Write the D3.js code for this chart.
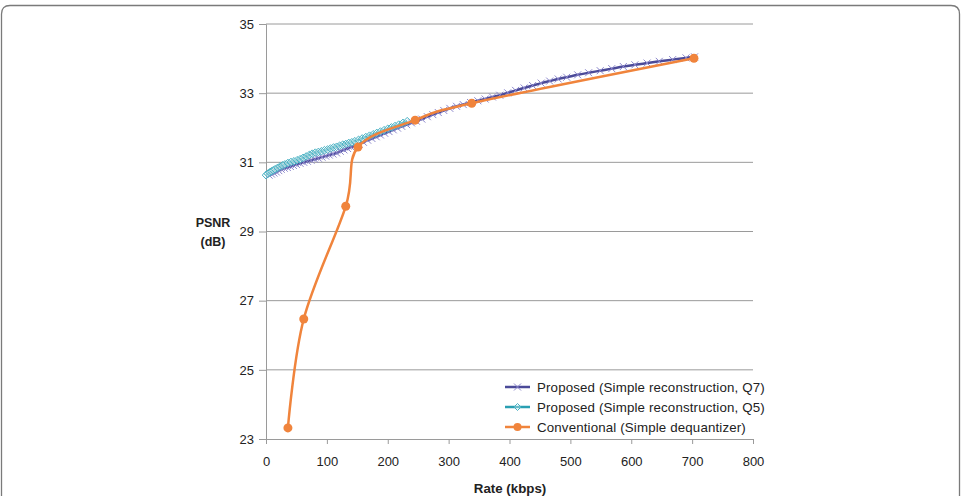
<!DOCTYPE html>
<html><head><meta charset="utf-8">
<script src="https://cdn.jsdelivr.net/npm/d3@7"></script>
<style>body{margin:0;background:#fff}svg{display:block}</style>
</head><body>
<svg id="c" width="961" height="496"></svg>
<script>
const xTicks = [0,100,200,300,400,500,600,700,800];
const yTicks = [23,25,27,29,31,33,35];
const seriesNames = ["Proposed (Simple reconstruction, Q7)","Proposed (Simple reconstruction, Q5)","Conventional (Simple dequantizer)"];

const q7Rate = [5,9,13,17,21,25,30,35,40,45,50,56,62,68,74,80,86,92,98,104,110,116,122,128,134,140,146,153,160,167,174,181,188,195,202,209,216,223,231,239,247,256,265,274,283,292,302,313,324,336,348,360,372,384,397,410,424,438,452,466,480,494,512,530,549,568,587,606,626,646,668,690,704];
const q7Psnr = [30.63,30.66,30.69,30.72,30.76,30.80,30.83,30.85,30.88,30.91,30.94,30.97,31.00,31.03,31.06,31.09,31.12,31.15,31.18,31.21,31.24,31.27,31.32,31.36,31.40,31.44,31.47,31.52,31.58,31.64,31.69,31.74,31.79,31.84,31.89,31.94,31.99,32.04,32.09,32.14,32.19,32.25,32.32,32.38,32.44,32.50,32.56,32.62,32.67,32.73,32.78,32.83,32.89,32.94,33.01,33.08,33.15,33.22,33.29,33.35,33.41,33.46,33.53,33.59,33.65,33.71,33.77,33.82,33.87,33.92,33.97,34.02,34.05];

const q5Rate = [0,3,6,9,12,15,19,23,27,31,36,41,46,51,56,61,66,71,76,81,86,91,96,101,106,111,116,121,126,131,136,141,146,152,158,164,170,176,182,188,194,200,206,212,218,225,232];
const q5Psnr = [30.63,30.67,30.71,30.74,30.77,30.80,30.84,30.88,30.91,30.94,30.98,31.01,31.03,31.06,31.09,31.13,31.17,31.21,31.25,31.28,31.30,31.32,31.35,31.37,31.40,31.43,31.45,31.48,31.51,31.53,31.56,31.58,31.61,31.65,31.69,31.73,31.77,31.81,31.85,31.89,31.93,31.97,32.01,32.05,32.09,32.14,32.19];

const convRate = [36,62,131,151,245,338,703];
const convPsnr = [23.32,26.47,29.73,31.44,32.22,32.71,34.01];

const svg = d3.select("#c");
const font = "'Liberation Sans', Arial, sans-serif";

// outer frame
svg.append("path")
  .attr("d","M1.5,520 L1.5,14 Q1.5,5.5 10,5.5 L951,5.5 Q959.5,5.5 959.5,14 L959.5,520")
  .attr("fill","none").attr("stroke","#7a7a7a").attr("stroke-width",1.3);

const L=266, R=753, T=24, B=439;
const x = d3.scaleLinear().domain([0,800]).range([L,R]);
const y = d3.scaleLinear().domain([23,35]).range([B,T]);

// gridlines
svg.append("g").selectAll("line").data(yTicks.slice(1)).join("line")
  .attr("x1",L).attr("x2",R).attr("y1",d=>y(d)).attr("y2",d=>y(d))
  .attr("stroke","#9a9a9a").attr("stroke-width",1);

// y axis
const yAxis = svg.append("g").attr("transform",`translate(${L},0)`)
  .call(d3.axisLeft(y).tickValues(yTicks).tickSize(7).tickPadding(5).tickFormat(d3.format("d")));
yAxis.select(".domain").attr("stroke","#9a9a9a");
yAxis.selectAll(".tick line").attr("stroke","#9a9a9a");
yAxis.selectAll("text").attr("font-family",font).attr("font-size",13).attr("fill","#222");

// x axis
const xAxis = svg.append("g").attr("transform",`translate(0,${B})`)
  .call(d3.axisBottom(x).tickValues(xTicks).tickSize(5).tickPadding(13).tickFormat(d3.format("d")));
xAxis.select(".domain").attr("stroke","#9a9a9a");
xAxis.selectAll(".tick line").attr("stroke","#9a9a9a");
xAxis.selectAll("text").attr("font-family",font).attr("font-size",13).attr("fill","#222");

// axis titles
svg.append("text").attr("x",213).attr("y",227).attr("text-anchor","middle")
  .attr("font-family",font).attr("font-size",12.5).attr("font-weight","bold").attr("fill","#222").text("PSNR");
svg.append("text").attr("x",213).attr("y",246).attr("text-anchor","middle")
  .attr("font-family",font).attr("font-size",12.5).attr("font-weight","bold").attr("fill","#222").text("(dB)");
svg.append("text").attr("x",510).attr("y",493).attr("text-anchor","middle")
  .attr("font-family",font).attr("font-size",13.3).attr("font-weight","bold").attr("fill","#222").text("Rate (kbps)");

const line = d3.line().x(d=>x(d[0])).y(d=>y(d[1])).curve(d3.curveCardinal.tension(0));

const colQ7="#4b4a98", colQ7m="#8b86cc";
const colQ5="#2a9fb2", colQ5m="#45b0c2";
const colC="#f0843c";

const q7 = q7Rate.map((r,i)=>[r,q7Psnr[i]]);
const q5 = q5Rate.map((r,i)=>[r,q5Psnr[i]]);
const conv = convRate.map((r,i)=>[r,convPsnr[i]]);

function xMark(g, px, py, s, c){
  g.append("path").attr("d",`M${px-s},${py-s}L${px+s},${py+s}M${px-s},${py+s}L${px+s},${py-s}`)
   .attr("stroke",c).attr("stroke-width",1).attr("fill","none");
}
function dMark(g, px, py, s, c){
  g.append("path").attr("d",`M${px},${py-s}L${px+s},${py}L${px},${py+s}L${px-s},${py}Z`)
   .attr("stroke",c).attr("stroke-width",1).attr("fill","#fff").attr("fill-opacity",0.3);
}

// Q7
const g7 = svg.append("g");
g7.append("path").datum(q7).attr("d",line).attr("fill","none").attr("stroke",colQ7).attr("stroke-width",2.5);
q7.forEach(d=>xMark(g7, x(d[0]), y(d[1]), 3.5, colQ7m));

// Q5
const g5 = svg.append("g");
g5.append("path").datum(q5).attr("d",line).attr("fill","none").attr("stroke",colQ5).attr("stroke-width",2.5);
q5.forEach(d=>dMark(g5, x(d[0]), y(d[1]), 3.8, colQ5m));

// Conventional
const gc = svg.append("g");
gc.append("path").datum(conv).attr("d",line).attr("fill","none").attr("stroke",colC).attr("stroke-width",2.5);
gc.selectAll("circle").data(conv).join("circle")
  .attr("cx",d=>x(d[0])).attr("cy",d=>y(d[1])).attr("r",4.5).attr("fill",colC);

// legend
const lg = svg.append("g");
const ly = [387,407,427];
const lcol = [colQ7,colQ5,colC];
seriesNames.forEach((n,i)=>{
  lg.append("line").attr("x1",505).attr("x2",530).attr("y1",ly[i]).attr("y2",ly[i])
    .attr("stroke",lcol[i]).attr("stroke-width",2.5);
  if(i===0) xMark(lg,517.5,ly[i],3.5,colQ7m);
  if(i===1) dMark(lg,517.5,ly[i],3.5,colQ5m);
  if(i===2) lg.append("circle").attr("cx",517.5).attr("cy",ly[i]).attr("r",4).attr("fill",colC);
  lg.append("text").attr("x",537).attr("y",ly[i]+4.5).attr("font-family",font).attr("font-size",13.3)
    .attr("letter-spacing",0.15).attr("fill","#222").text(n);
});
</script>
</body></html>
